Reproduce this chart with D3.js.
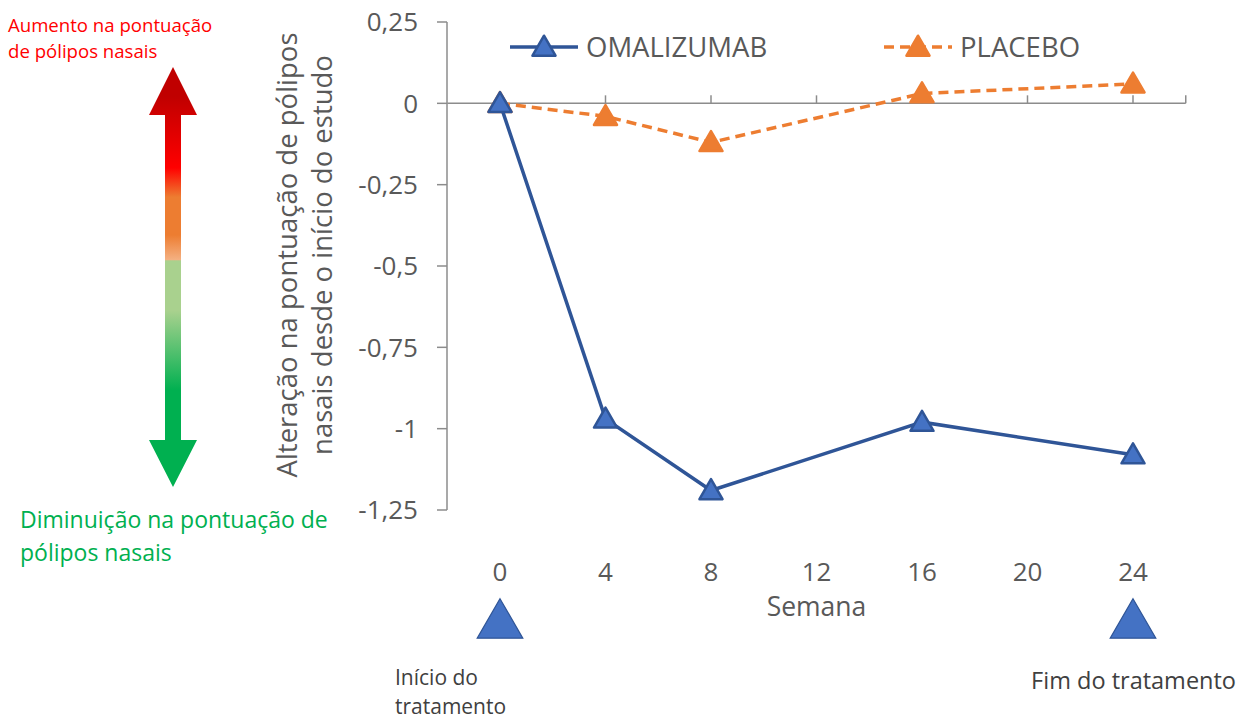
<!DOCTYPE html>
<html><head><meta charset="utf-8">
<script src="https://cdn.jsdelivr.net/npm/d3@7"></script>
<style>body{margin:0;background:#fff}svg{display:block}text{font-family:"Open Sans","Noto Sans",sans-serif}</style>
</head><body><svg id="c" width="1240" height="722"></svg>
<script>
const weeks = [0, 4, 8, 16, 24];
const omalizumab = [0, -0.97, -1.19, -0.98, -1.08];
const placebo = [0, -0.04, -0.12, 0.03, 0.06];
const xTicks = [0, 4, 8, 12, 16, 20, 24];
const yTicks = [0.25, 0, -0.25, -0.5, -0.75, -1, -1.25];
const yTickLabels = ["0,25", "0", "-0,25", "-0,5", "-0,75", "-1", "-1,25"];
const seriesNames = ["OMALIZUMAB", "PLACEBO"];
const markerWeeks = [0, 24];

const svg = d3.select("#c");
const x = d3.scaleLinear().domain([-2, 26]).range([447.25, 1185.75]);
const y = d3.scaleLinear().domain([0.25, -1.25]).range([22, 510]);
const axisCol = "#8c8c8c", txtCol = "#595959";
const blue = "#2F5597", blueFill = "#4472C4", orange = "#ED7D31";

// gradient arrow
const defs = svg.append("defs");
const g = defs.append("linearGradient").attr("id","arr")
  .attr("gradientUnits","userSpaceOnUse").attr("x1",0).attr("x2",0).attr("y1",67).attr("y2",487);
[[0,"#C00000"],[0.07,"#C00000"],[0.24,"#FF0000"],[0.31,"#ED7D31"],[0.40,"#ED7D31"],[0.46,"#F4B183"],
 [0.461,"#A9D18E"],[0.58,"#A9D18E"],[0.77,"#00B050"],[1,"#00B050"]]
 .forEach(([o,c])=>g.append("stop").attr("offset",o).attr("stop-color",c));
svg.append("path").attr("fill","url(#arr)")
  .attr("d","M173,67 L197,115 L181,115 L181,440 L197,440 L173,487 L149,440 L165,440 L165,115 L149,115 Z");

svg.append("text").attr("x",8).attr("y",32).attr("fill","#FF0000").attr("font-size",18.6).text("Aumento na pontuação");
svg.append("text").attr("x",8).attr("y",58).attr("fill","#FF0000").attr("font-size",18.6).text("de pólipos nasais");
svg.append("text").attr("x",20).attr("y",528).attr("fill","#00B050").attr("font-size",23).text("Diminuição na pontuação de");
svg.append("text").attr("x",20).attr("y",561).attr("fill","#00B050").attr("font-size",23).text("pólipos nasais");

// y axis
svg.append("line").attr("x1",447).attr("x2",447).attr("y1",y(0.25)).attr("y2",y(-1.25)).attr("stroke",axisCol).attr("stroke-width",1.5);
yTicks.forEach((v,i)=>{
  svg.append("line").attr("x1",437).attr("x2",447).attr("y1",y(v)).attr("y2",y(v)).attr("stroke",axisCol).attr("stroke-width",1.5);
  svg.append("text").attr("x",418).attr("y",y(v)).attr("dy","0.36em").attr("text-anchor","end")
    .attr("fill",txtCol).attr("font-size",26).text(yTickLabels[i]);
});
// x axis along zero
svg.append("line").attr("x1",x(-2)).attr("x2",x(26)).attr("y1",y(0)).attr("y2",y(0)).attr("stroke",axisCol).attr("stroke-width",1.5);
xTicks.concat([26]).forEach(v=>{
  svg.append("line").attr("x1",x(v)).attr("x2",x(v)).attr("y1",y(0)-8).attr("y2",y(0)).attr("stroke",axisCol).attr("stroke-width",1.5);
});
xTicks.forEach(v=>{
  svg.append("text").attr("x",x(v)).attr("y",572).attr("dy","0.36em").attr("text-anchor","middle")
    .attr("fill",txtCol).attr("font-size",26).text(v);
});
svg.append("text").attr("x",x(12)).attr("y",606).attr("dy","0.36em").attr("text-anchor","middle")
  .attr("fill",txtCol).attr("font-size",26.5).text("Semana");

// y title
const yt = svg.append("text").attr("transform","translate(0,255) rotate(-90)").attr("text-anchor","middle")
  .attr("fill",txtCol).attr("font-size",27.5);
yt.append("tspan").attr("x",0).attr("y",297).text("Alteração na pontuação de pólipos");
yt.append("tspan").attr("x",0).attr("y",332).text("nasais desde o início do estudo");

// series
const tri = d3.symbol().type(d3.symbolTriangle).size(230);
function series(vals, col, fill, dash){
  const line = d3.line().x((d,i)=>x(weeks[i])).y(d=>y(d));
  svg.append("path").datum(vals).attr("d",line).attr("fill","none").attr("stroke",col)
    .attr("stroke-width",3.5).attr("stroke-dasharray",dash||null);
  vals.forEach((v,i)=>{
    svg.append("path").attr("d",tri).attr("transform",`translate(${x(weeks[i])},${y(v)+2})`)
      .attr("fill",fill).attr("stroke",col).attr("stroke-width",2.5).attr("stroke-linejoin","round");
  });
}
series(placebo, orange, orange, "10,6");
series(omalizumab, blue, blueFill);

// legend
function legend(x0, col, fill, dash, name){
  svg.append("line").attr("x1",x0).attr("x2",x0+68).attr("y1",47).attr("y2",47).attr("stroke",col)
    .attr("stroke-width",3.5).attr("stroke-dasharray",dash||null);
  svg.append("path").attr("d",tri).attr("transform",`translate(${x0+34},49)`)
    .attr("fill",fill).attr("stroke",col).attr("stroke-width",2.5).attr("stroke-linejoin","round");
  svg.append("text").attr("x",x0+76).attr("y",47).attr("dy","0.36em").attr("fill",txtCol).attr("font-size",27.5).text(name);
}
legend(510, blue, blueFill, null, seriesNames[0]);
legend(884, orange, orange, "10,6", seriesNames[1]);

// bottom markers
const bigTri = d3.symbol().type(d3.symbolTriangle).size(900);
markerWeeks.forEach(w=>{
  svg.append("path").attr("d",bigTri).attr("transform",`translate(${x(w)},625)`)
    .attr("fill",blueFill).attr("stroke",blue).attr("stroke-width",1.2);
});
const bc = "#404040";
const st = svg.append("text").attr("fill",bc).attr("font-size",21);
st.append("tspan").attr("x",395).attr("y",685).text("Início do");
st.append("tspan").attr("x",395).attr("y",714).text("tratamento");
svg.append("text").attr("x",1236).attr("y",689).attr("text-anchor","end").attr("fill",bc).attr("font-size",23.5).text("Fim do tratamento");
</script></body></html>
